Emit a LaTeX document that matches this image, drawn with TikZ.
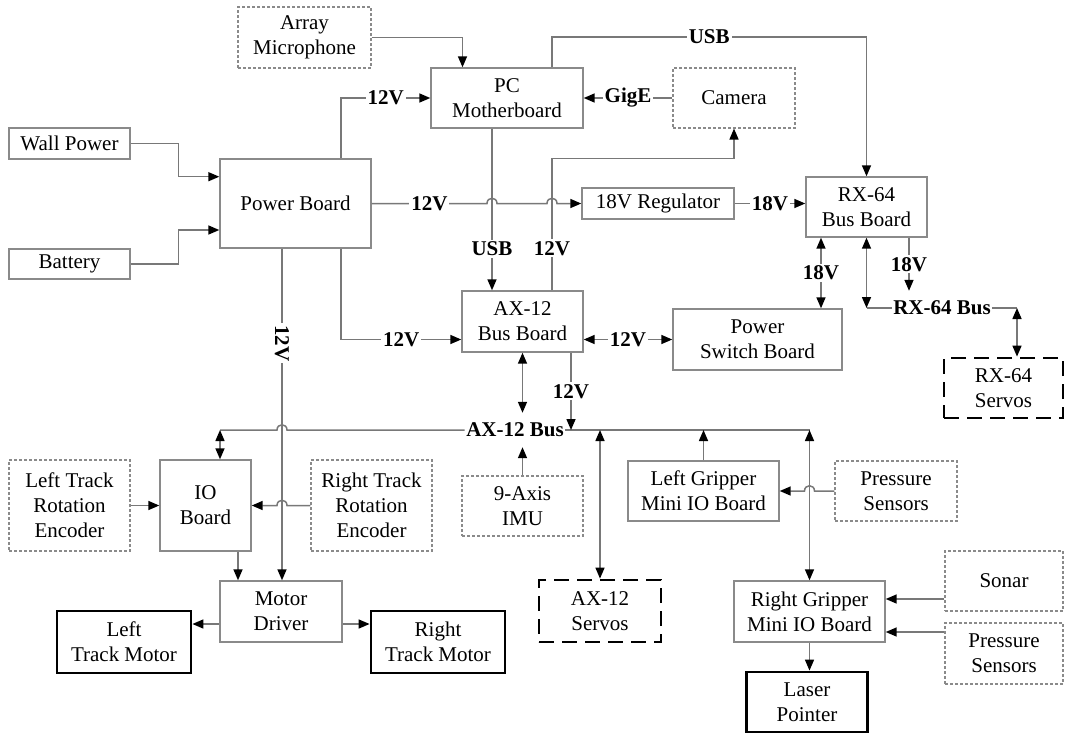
\documentclass[tikz,border=0pt]{standalone}
\usepackage{fontspec}
\setmainfont{Liberation Serif}
\usetikzlibrary{arrows.meta,calc}
\definecolor{boxgray}{HTML}{8A8A8A}
\definecolor{linegray}{HTML}{787878}
\begin{document}
\begin{tikzpicture}[x=1pt,y=-1pt,
  base/.style={font=\fontsize{21}{25}\selectfont, align=center, text=black, inner sep=0pt},
  sz/.style 2 args={minimum width=#1pt, minimum height=#2pt},
  bx/.style={base, draw=boxgray, line width=1.4pt},
  dotbx/.style={base, draw=boxgray, line width=1.1pt, dash pattern=on 3pt off 2pt},
  thickbx/.style={base, draw=black, line width=2.8pt},
  thickdash/.style={base, draw=black, line width=2.8pt, dash pattern=on 15pt off 8pt},
  lab/.style={font=\fontsize{21}{25}\selectfont\bfseries, fill=white, inner sep=2pt, text=black},
  buslab/.style={font=\fontsize{21}{25}\selectfont\bfseries, inner ysep=0pt, inner xsep=1.5pt, minimum height=34pt, text=black},
  conn/.style={draw=linegray, line width=1.5pt},
  tip/.tip={Triangle[length=11pt,width=9pt,color=black]},
  arr/.style={conn, -tip},
  darr/.style={conn, tip-tip},
]
\useasboundingbox (0,0) rectangle (1065,734);

% ---------- boxes ----------
\node[dotbx, sz={133}{61}] (mic) at (304.5,37.5) {Array\\Microphone};
\node[bx, sz={152}{60}] (pc) at (507,98) {PC\\Motherboard};
\node[dotbx, sz={122}{60}] (cam) at (734,98) {Camera};
\node[bx, sz={121}{31}] (wall) at (69.5,143.5) {Wall Power};
\node[bx, sz={151}{89}] (pb) at (295.5,203.5) {Power Board};
\node[bx, sz={121}{30}] (bat) at (69.5,264) {Battery};
\node[bx, sz={152}{31}] (reg) at (658,203.5) {18V Regulator};
\node[bx, sz={121}{60}] (rx) at (866.5,207) {RX-64\\Bus Board};
\node[bx, sz={121}{61}] (ax) at (522.5,321.5) {AX-12\\Bus Board};
\node[bx, sz={169}{61}] (ps) at (757.5,339.5) {Power\\Switch Board};
\node[thickdash, sz={119}{60}] (rxs) at (1003.5,388) {RX-64\\Servos};
\node[bx, sz={91}{91}] (io) at (205.5,505.5) {IO\\Board};
\node[dotbx, sz={121}{91}] (lenc) at (69.5,505.5) {Left Track\\Rotation\\Encoder};
\node[dotbx, sz={121}{91}] (renc) at (371.5,505.5) {Right Track\\Rotation\\Encoder};
\node[dotbx, sz={121}{60}] (imu) at (522.5,506) {9-Axis\\IMU};
\node[bx, sz={151}{60}] (lg) at (703.5,491) {Left Gripper\\Mini IO Board};
\node[dotbx, sz={122}{60}] (pst) at (896,491) {Pressure\\Sensors};
\node[bx, sz={122}{61}] (md) at (281,611.5) {Motor\\Driver};
\node[thickbx, sz={134}{62}] (ltm) at (124,642) {Left\\Track Motor};
\node[thickbx, sz={134}{62}] (rtm) at (438,642) {Right\\Track Motor};
\node[thickdash, sz={122}{62}] (axs) at (600,611) {AX-12\\Servos};
\node[bx, sz={151}{61}] (rg) at (809.5,611.5) {Right Gripper\\Mini IO Board};
\node[dotbx, sz={118}{60}] (sonar) at (1004,581) {Sonar};
\node[dotbx, sz={118}{61}] (psb) at (1004,653.5) {Pressure\\Sensors};
\node[thickbx, sz={121}{60}] (laser) at (807,702) {Laser\\Pointer};

% bus labels
\node[buslab] (busl) at (515,430) {AX-12 Bus};
\node[buslab] (rxbus) at (942,308) {RX-64 Bus};

% helper coordinates
\coordinate (xU) at (492,0);
\coordinate (xV) at (552,0);
\coordinate (x12) at (282,0);
\coordinate (x18) at (821,0);
\coordinate (x18b) at (909,0);
\coordinate (x12b) at (571,0);
\coordinate (xio) at (238,0);
\coordinate (rxc) at (866.5,308);
\coordinate (rxr) at (1017,308);
\coordinate (busL) at (220,430);
\coordinate (busR) at (809.5,430);
\coordinate (mdo) at ([yshift=-12.5pt]md.west);
\coordinate (mde) at ([yshift=-12.5pt]md.east);
\coordinate (so) at ([yshift=-18pt]sonar.west);
\coordinate (pso) at ([yshift=21.5pt]psb.west);

% ---------- connectors ----------
\draw[arr] (mic.east) -| ([xshift=-44.5pt]pc.north);
\draw[arr] ([xshift=45.5pt]pb.north) |- node[lab,pos=0.75]{12V} (pc.west);
\draw[arr] (pc.north -| xV) -- ++(0,-30.3) -| node[lab,pos=0.25]{USB} (rx.north);
\draw[arr] (cam.west) -- node[lab]{GigE} (pc.east);
\draw[arr] (wall.east) -- ++(48,0) |- ([yshift=26.8pt]pb.west);
\draw[arr] (bat.east) -- ++(48,0) |- ([yshift=-26.5pt]pb.west);

\draw[arr] (pb.east) -- node[lab]{12V} (487,203.5)
   .. controls +(0,-7) and +(0,-7) .. (497,203.5) -- (547,203.5)
   .. controls +(0,-7) and +(0,-7) .. (557,203.5) -- (reg.west);
\draw[arr] (reg.east) -- node[lab]{18V} (rx.west |- reg.east);

\draw[arr] (pc.south -| xU) -- node[lab,pos=0.742]{USB} (ax.north -| xU);
\draw[arr] (ax.north -| xV) -- node[lab,pos=0.318]{12V} ++(0,-132) -| (cam.south);
\draw[arr] ([xshift=45.5pt]pb.south) |- node[lab,pos=0.75]{12V} ([yshift=-18pt]ax.west);
\draw[darr] (ax.east |- ps.west) -- node[lab]{12V} (ps.west);
\draw[arr] (pb.south -| x12) -- node[lab,rotate=-90,pos=0.285]{12V} (md.north -| x12);

\draw[darr] (rx.south -| x18) -- node[lab]{18V} (ps.north -| x18);
\draw[darr] (rx.south) -- (rxc);
\draw[conn] (rxc) -- (rxbus.west);
\draw[conn] (rxbus.east) -- (rxr);
\draw[darr] (rxr) -- (rxs.north -| rxr);
\draw[arr] (rx.south -| x18b) -- node[lab]{18V} (rxbus.north -| x18b);

% AX-12 bus
\draw[conn] (busl.west) -- (287,430) .. controls +(0,-7) and +(0,-7) .. (277,430) -- (busL);
\draw[darr] (busL) -- (io.north -| busL);
\draw[conn] (busl.east) -- (busR);
\draw[darr] (ax.south) -- (busl.north -| ax.south);
\draw[arr] (imu.north) -- (busl.south -| imu.north);
\draw[arr] (ax.south -| x12b) -- node[lab]{12V} (x12b |- busl);
\draw[darr] (axs.north |- busR) -- (axs.north);
\draw[arr] (lg.north) -- (lg.north |- busR);
\draw[darr] (busR) -- (rg.north);
\draw[arr] (pst.west) -- (814.5,491) .. controls +(0,-7) and +(0,-7) .. (804.5,491) -- (lg.east);

% IO / motors
\draw[arr] (lenc.east) -- (io.west);
\draw[arr] (renc.west) -- (287,505.5) .. controls +(0,-7) and +(0,-7) .. (277,505.5) -- (io.east);
\draw[arr] (io.south -| xio) -- (md.north -| xio);
\draw[arr] (mdo) -- (mdo -| ltm.east);
\draw[arr] (mde) -- (mde -| rtm.west);

% right gripper
\draw[arr] (so) -- (so -| rg.east);
\draw[arr] (pso) -- (pso -| rg.east);
\draw[arr] (rg.south) -- (rg.south |- laser.north);
\end{tikzpicture}
\end{document}
